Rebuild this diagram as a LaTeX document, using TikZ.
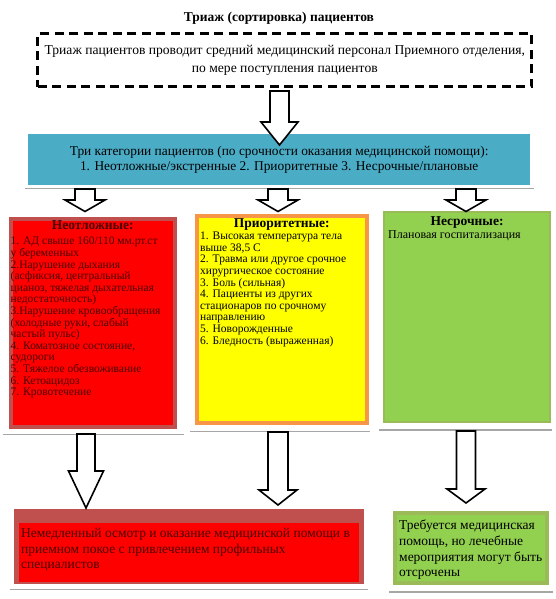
\documentclass[tikz,border=0pt]{standalone}
\usepackage{fontspec}
\setmainfont{Liberation Serif}
\usepackage{tikz}
\usetikzlibrary{positioning,calc}
\usepackage{xcolor}

\definecolor{tealfill}{HTML}{4BACC6}
\definecolor{redfill}{HTML}{FF0000}
\definecolor{redline}{HTML}{C0504D}
\definecolor{yelfill}{HTML}{FFFF00}
\definecolor{orline}{HTML}{F79646}
\definecolor{grnfill}{HTML}{92D050}
\definecolor{grnline}{HTML}{9BBB59}
\definecolor{redtext}{HTML}{4A0000}
\definecolor{shline}{HTML}{A6A6A6}

% hollow block arrow: start, tip, half shaft, half head, head length
\newcommand{\blockarrow}[5]{%
  \draw[barrow] let \p1=(#1), \p2=(#2) in
    (\x1-#3,\y1) -- (\x1+#3,\y1) -- (\x1+#3,\y2+#5) -- (\x1+#4,\y2+#5)
    -- (\x2,\y2) -- (\x1-#4,\y2+#5) -- (\x1-#3,\y2+#5) -- cycle;}

\begin{document}
\begin{tikzpicture}[x=1pt,y=-1pt,
          every node/.style={inner sep=0pt},
          boxtitle/.style={font=\fontsize{13.5}{15}\selectfont\bfseries},
          listtext/.style={font=\fontsize{11.5}{11.6}\selectfont,align=left,anchor=north west},
          bigtext/.style={font=\fontsize{13.5}{15.6}\selectfont,align=left,anchor=north west},
          catbox/.style={rectangle,line width=3.5pt,anchor=north west},
          barrow/.style={draw=black,fill=white,line width=1.6pt,line join=miter},
          shadow/.style={draw=shline,line width=1.3pt},
        ]
        \useasboundingbox (0,0) rectangle (556,599);

        \node[boxtitle] (title) at (279,18) {Триаж (сортировка) пациентов};
        \node[draw,dashed,line width=2.8pt,dash pattern=on 9pt off 5.5pt,anchor=north west,
              minimum width=494,minimum height=53] (triage) at (36.4,32.4) {};
        \node[font=\fontsize{13.6}{18}\selectfont,align=center] (triagetxt) at (triage.center)
          {Триаж пациентов проводит средний медицинский персонал Приемного отделения,\\
           по мере поступления пациентов};

        \node[rectangle,fill=tealfill,anchor=north west,minimum width=502,minimum height=51] (cat) at (28,134) {};
        \node[font=\fontsize{13.4}{15}\selectfont,align=center] (cattxt) at (cat.center)
          {Три категории пациентов (по срочности оказания медицинской помощи):\\
           1. Неотложные/экстренные 2. Приоритетные 3. Несрочные/плановые};

        \node[catbox,draw=redline,fill=redfill,minimum width=164,minimum height=208] (neot) at (9,217) {};
        \node[boxtitle,text=redtext] (neottitle) at ([yshift=-8]neot.north) {Неотложные:};
        \node[listtext,text=redtext] (neotlist) at ([xshift=1.5,yshift=-20]neot.north west)
          {1. АД свыше 160/110 мм.рт.ст\\
           у беременных\\
           2.Нарушение дыхания\\
           (асфиксия, центральный\\
           цианоз, тяжелая дыхательная\\
           недостаточность)\\
           3.Нарушение кровообращения\\
           (холодные руки, слабый\\
           частый пульс)\\
           4. Коматозное состояние,\\
           судороги\\
           5. Тяжелое обезвоживание\\
           6. Кетоацидоз\\
           7. Кровотечение};

        \node[catbox,draw=orline,fill=yelfill,minimum width=170,minimum height=207] (prior) at (195,214) {};
        \node[boxtitle] (priortitle) at ([yshift=-11]prior.north) {Приоритетные:};
        \node[listtext] (priorlist) at ([xshift=5,yshift=-18]prior.north west)
          {1. Высокая температура тела\\
           выше 38,5 С\\
           2. Травма или другое срочное\\
           хирургическое состояние\\
           3. Боль (сильная)\\
           4. Пациенты из других\\
           стационаров по срочному\\
           направлению\\
           5. Новорожденные\\
           6. Бледность (выраженная)};

        \node[catbox,draw=grnline,fill=grnfill,line width=2pt,minimum width=166,minimum height=210] (nesr) at (383,211) {};
        \node[boxtitle] (nesrtitle) at ([yshift=-12]nesr.north) {Несрочные:};
        \node[listtext,font=\fontsize{12}{12}\selectfont] (nesrlist) at ([xshift=5,yshift=-19.5]nesr.north west)
          {Плановая госпитализация};

        \node[rectangle,fill=redline,anchor=north west,minimum width=350,minimum height=75] (now) at (14,509) {};
        \node[rectangle,fill=redfill,anchor=north west,minimum width=340,minimum height=59] (nowin) at (19,523) {};
        \node[bigtext,text=redtext] (nowtxt) at ([xshift=2,yshift=-5]nowin.north west)
          {Немедленный осмотр и оказание медицинской помощи в\\
           приемном покое с привлечением профильных\\
           специалистов};

        \node[catbox,draw=grnline,fill=grnfill,line width=4pt,minimum width=152,minimum height=70] (later) at (393,511) {};
        \node[bigtext] (latertxt) at ([xshift=6,yshift=-9]later.north west)
          {Требуется медицинская\\
           помощь, но лечебные\\
           мероприятия могут быть\\
           отсрочены};

        \draw[shadow] ([xshift=-3,yshift=-3]cat.south west) -- ([xshift=4,yshift=-3]cat.south east);
        \draw[shadow] ([xshift=-6,yshift=-6]neot.south west) -- ([xshift=7,yshift=-6]neot.south east);
        \draw[shadow] ([xshift=-5,yshift=-7]prior.south west) -- ([xshift=1,yshift=-7]prior.south east);
        \draw[shadow] ([xshift=-4,yshift=-7]nesr.south west) -- ([xshift=1,yshift=-7]nesr.south east);
        \draw[shadow] ([xshift=-4,yshift=-5]now.south west) -- ([xshift=4,yshift=-5]now.south east);
        \draw[shadow] ([xshift=-4,yshift=-7]later.south west) -- ([xshift=4,yshift=-7]later.south east);

        \coordinate (a0s) at (279.5,91);  \coordinate (a0e) at (279.5,145);
        \coordinate (a1s) at (85,189);    \coordinate (a1e) at (85,211.5);
        \coordinate (a2s) at (278,189);   \coordinate (a2e) at (278,211.5);
        \coordinate (a3s) at (466,189);   \coordinate (a3e) at (466,211.5);
        \coordinate (a4s) at (86,434);    \coordinate (a4e) at (86,508);
        \coordinate (a5s) at (278,432);   \coordinate (a5e) at (278,505);
        \coordinate (a6s) at (466,431);   \coordinate (a6e) at (466,503);

        \blockarrow{a0s}{a0e}{9.5pt}{18.5pt}{23pt}
        \blockarrow{a1s}{a1e}{10pt}{20pt}{11.5pt}
        \blockarrow{a2s}{a2e}{10pt}{20pt}{11.5pt}
        \blockarrow{a3s}{a3e}{10pt}{20pt}{11.5pt}
        \blockarrow{a4s}{a4e}{9pt}{17.5pt}{37pt}
        \blockarrow{a5s}{a5e}{10pt}{19pt}{15pt}
        \blockarrow{a6s}{a6e}{9.5pt}{19pt}{14pt}
      \end{tikzpicture}
\end{document}
